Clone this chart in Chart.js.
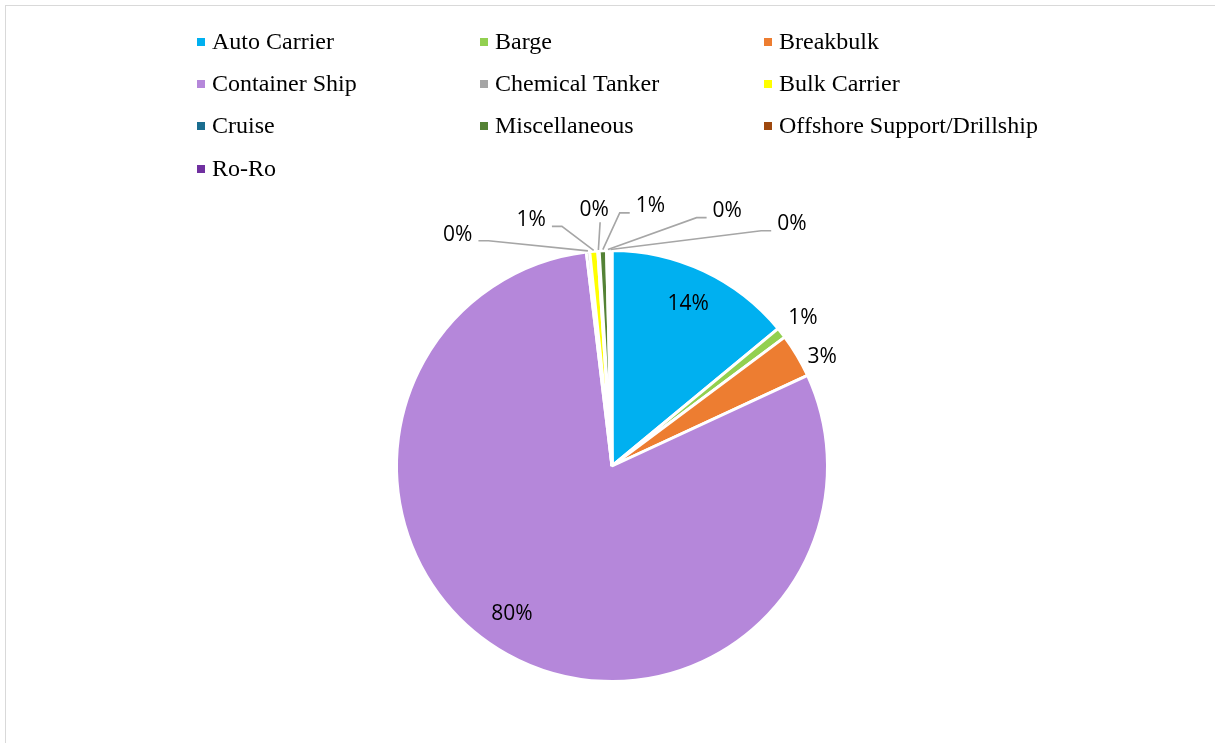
<!DOCTYPE html>
<html>
<head>
<meta charset="utf-8">
<script src="https://cdn.jsdelivr.net/npm/chart.js@4.4.1/dist/chart.umd.min.js"></script>
<style>
  html, body { margin: 0; padding: 0; background: #fff; overflow: hidden; }
  #frame { position: absolute; left: 5px; top: 5px; width: 1400px; height: 900px; border: 1px solid #d9d9d9; }
  #wrap { position: absolute; left: 0; top: 0; width: 1215px; height: 743px; }
</style>
</head>
<body>
<div id="frame"></div>
<div id="wrap"><canvas id="myChart" width="1215" height="743"></canvas></div>
<script>
// vessel types and their share of the total (percent)
let vesselTypes = ['Auto Carrier', 'Barge', 'Breakbulk', 'Container Ship', 'Chemical Tanker',
                   'Bulk Carrier', 'Cruise', 'Miscellaneous', 'Offshore Support/Drillship', 'Ro-Ro'];
let shares = [14.0, 0.8, 3.3, 80.0, 0.25, 0.6, 0.1, 0.55, 0.2, 0.2];
let sliceColors = ['#00b0f0', '#92d050', '#ed7d31', '#b587da', '#a5a5a5',
                   '#ffff00', '#1a6d8f', '#548235', '#9e480e', '#7030a0'];

// where each data label sits: angle (deg clockwise from top) and distance as a fraction of the radius
// null = inside the slice at its middle
let labelSpots = [null, [52.3, 1.12], [62.5, 1.10], [214, 0.83], [326.3, 1.29],
                  [341.8, 1.20], [356, 1.19], [8.4, 1.22], [24.3, 1.30], [36.6, 1.40]];

// legend drawn as a 3-column grid like the original
let legendGrid = {
    draw(chart) {
        let ctx = chart.ctx;
        let cols = [197, 480, 764], rows = [42, 84, 126, 169];
        ctx.save();
        ctx.font = '24px "Liberation Serif", "Times New Roman", serif';
        ctx.textBaseline = 'middle';
        ctx.textAlign = 'left';
        chart.data.labels.forEach((lab, i) => {
            let x = cols[i % 3], y = rows[Math.floor(i / 3)];
            ctx.fillStyle = chart.data.datasets[0].backgroundColor[i];
            ctx.fillRect(x, y - 4, 8, 8);
            ctx.fillStyle = '#000';
            ctx.fillText(lab, x + 15, y + 1);
        });
        ctx.restore();
    }
};

let pieLabels = {
    id: 'pieLabels',
    afterDatasetsDraw(chart) {
        let ctx = chart.ctx;
        let meta = chart.getDatasetMeta(0);
        let vals = chart.data.datasets[0].data;
        let total = vals.reduce((a, b) => a + b, 0);
        ctx.save();
        ctx.font = '21px "Open Sans", Lato, sans-serif';
        ctx.textAlign = 'center';
        ctx.textBaseline = 'middle';
        meta.data.forEach((arc, i) => {
            let cx = arc.x, cy = arc.y, R = arc.outerRadius;
            let mid = (arc.startAngle + arc.endAngle) / 2;
            let txt = Math.round(vals[i] / total * 100) + '%';
            let spot = labelSpots[i];
            let lx, ly;
            if (!spot) {
                lx = cx + Math.cos(mid) * R * 0.83;
                ly = cy + Math.sin(mid) * R * 0.83;
            } else {
                let a = (spot[0] - 90) * Math.PI / 180;
                lx = cx + Math.cos(a) * R * spot[1];
                ly = cy + Math.sin(a) * R * spot[1];
                if (spot[1] > 1.15) {
                    // leader line from label to slice edge
                    let px = cx + Math.cos(mid) * (R + 1);
                    let py = cy + Math.sin(mid) * (R + 1);
                    let w = ctx.measureText(txt).width;
                    ctx.strokeStyle = '#a6a6a6';
                    ctx.lineWidth = 1.6;
                    ctx.beginPath();
                    if (Math.abs(lx - px) < 12) {
                        ctx.moveTo(lx + 6, ly + 12);
                        ctx.lineTo(px, py);
                    } else if (lx < px) {
                        let sx = lx + w / 2 + 6;
                        ctx.moveTo(sx, ly + 6);
                        ctx.lineTo(sx + 10, ly + 6);
                        ctx.lineTo(px, py);
                    } else {
                        let sx = lx - w / 2 - 6;
                        ctx.moveTo(sx, ly + 7);
                        ctx.lineTo(sx - 10, ly + 7);
                        ctx.lineTo(px, py);
                    }
                    ctx.stroke();
                }
            }
            ctx.fillStyle = '#000';
            ctx.fillText(txt, lx, ly);
        });
        ctx.restore();
        legendGrid.draw(chart);
    }
};

let myChart = document.getElementById('myChart').getContext('2d');

let vesselChart = new Chart(myChart, {
    type: 'pie',
    data: {
        labels: vesselTypes,
        datasets: [{
            data: shares,
            backgroundColor: sliceColors,
            borderColor: '#fff',
            borderWidth: 3
        }]
    },
    options: {
        responsive: false,
        animation: false,
        layout: { padding: { top: 249, bottom: 60, left: 395, right: 386 } },
        plugins: {
            legend: { display: false },
            tooltip: { enabled: false }
        }
    },
    plugins: [pieLabels]
});
</script>
</body>
</html>
